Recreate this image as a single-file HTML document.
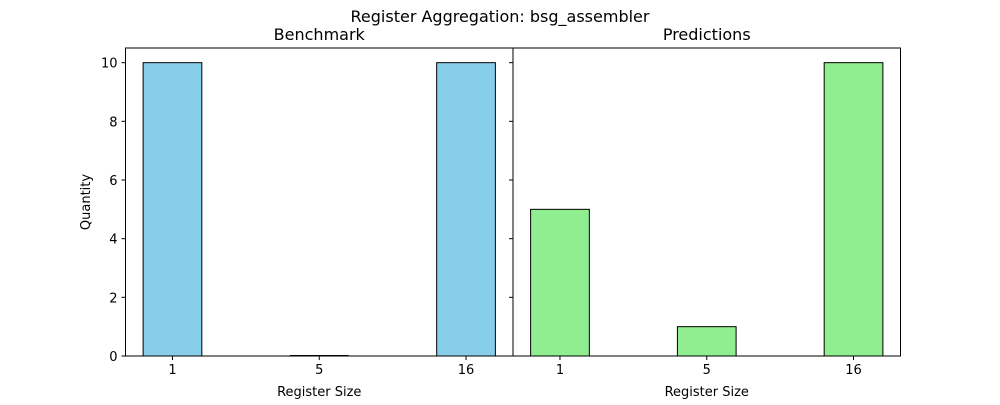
<!DOCTYPE html>
<html><head><meta charset="utf-8"><style>
body{margin:0;background:#fff;font-family:"Liberation Sans","DejaVu Sans",sans-serif;}
svg text{font-family:"DejaVu Sans","Liberation Sans",sans-serif;}
</style></head><body>
<svg id="chart" width="1000" height="400" xmlns="http://www.w3.org/2000/svg">
<rect width="1000" height="400" fill="#fff"/>
<text x="500" y="22" font-size="16" text-anchor="middle">Register Aggregation: bsg_assembler</text>
</svg>
<script>
const categories = ["1","5","16"];
const benchmarkValues = [10,0,10];
const predictionValues = [5,1,10];
const yTicks = [0,2,4,6,8,10];
const svgEl = document.getElementById('chart');
const NS = 'http://www.w3.org/2000/svg';
function mk(tag, attrs, parent){const e=document.createElementNS(NS,tag);for(const k in attrs)e.setAttribute(k,attrs[k]);(parent||svgEl).appendChild(e);return e;}
const plotTop=48,plotBottom=356;
function yScale(v){return plotBottom-(v/10.5)*(plotBottom-plotTop);}
function panel(x0,x1,vals,color,title,showY,name){
  const g=mk('g',{});
  
  
  const w=x1-x0;
  const xScale=i=>x0+(i+0.32)/2.64*w;
  const bw=0.4/2.64*w;
  vals.forEach((v,i)=>{
    const y=yScale(v);
    const r=mk('rect',{x:xScale(i)-bw/2,y:y,width:bw,height:Math.max(plotBottom-y,0),fill:color,stroke:'#000','stroke-width':1},g);
    
    
    if(v===0){
      const zl=mk('line',{x1:xScale(i)-bw/2,x2:xScale(i)+bw/2,y1:plotBottom-0.5,y2:plotBottom-0.5,stroke:'#000'},g);
      
      
    }
    mk('line',{x1:xScale(i),x2:xScale(i),y1:plotBottom,y2:plotBottom+4,stroke:'#000'},g);
    const lb=mk('text',{x:xScale(i),y:plotBottom+18,'font-size':13,'text-anchor':'middle'},g);
    lb.textContent=categories[i];
    
    
  });
  yTicks.forEach(v=>{
    mk('line',{x1:x0-4,x2:x0,y1:yScale(v),y2:yScale(v),stroke:'#000'},g);
    if(showY){
      const t=mk('text',{x:x0-8,y:yScale(v)+5,'font-size':13,'text-anchor':'end'},g);
      t.textContent=v;
      
      
    }
  });
  mk('rect',{x:x0,y:plotTop,width:w,height:plotBottom-plotTop,fill:'none',stroke:'#000','stroke-width':1},g);
  const tt=mk('text',{x:(x0+x1)/2,y:40,'font-size':16,'text-anchor':'middle'},g);
  tt.textContent=title;
  
  
  const xl=mk('text',{x:(x0+x1)/2,y:396,'font-size':13,'text-anchor':'middle'},g);
  xl.textContent='Register Size';
  
  
}
panel(125.5,513,benchmarkValues,'#87ceeb','Benchmark',true,'benchmark-panel');
panel(513,900.5,predictionValues,'#90ee90','Predictions',false,'predictions-panel');
const yl=mk('text',{x:90,y:202,'font-size':13,'text-anchor':'middle',transform:'rotate(-90 90 202)'});
yl.textContent='Quantity';


</script>
</body></html>
